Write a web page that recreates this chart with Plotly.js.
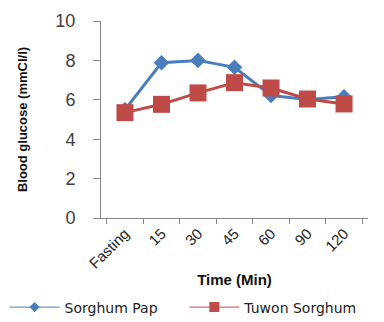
<!DOCTYPE html>
<html><head><meta charset="utf-8">
<script src="https://cdn.plot.ly/plotly-3.0.1.min.js"></script>
<style>html,body{margin:0;padding:0;background:#fff}#c{width:384px;height:322px}</style>
</head><body><div id="c"></div>
<script>
const categories = ["Fasting","15","30","45","60","90","120"];
const sorghumPap = [5.5, 7.88, 8.0, 7.65, 6.22, 6.02, 6.15];
const tuwonSorghum = [5.35, 5.77, 6.35, 6.87, 6.6, 6.04, 5.79];
const seriesNames = ["Sorghum Pap", "Tuwon Sorghum"];
const seriesColors = ["#4A7EBB", "#BE4B48"];
const yTicks = [0,2,4,6,8,10];

const traces = [
  {x: categories, y: sorghumPap, name: seriesNames[0], type: "scatter", mode: "lines+markers", showlegend: false,
   line: {color: seriesColors[0], width: 3}, marker: {symbol: "diamond", size: 12, color: seriesColors[0]}},
  {x: categories, y: tuwonSorghum, name: seriesNames[1], type: "scatter", mode: "lines+markers", showlegend: false,
   line: {color: seriesColors[1], width: 3}, marker: {symbol: "square", size: 17, color: seriesColors[1]}},
  // legend entries (thin line, small marker, as in the reference legend)
  {x: [null], y: [null], name: seriesNames[0], type: "scatter", mode: "lines+markers", legend: "legend",
   line: {color: seriesColors[0], width: 1}, marker: {symbol: "diamond", size: 8, color: seriesColors[0]}},
  {x: [null], y: [null], name: seriesNames[1], type: "scatter", mode: "lines+markers", legend: "legend2",
   line: {color: seriesColors[1], width: 1}, marker: {symbol: "square", size: 10, color: seriesColors[1]}}
];
const legendFont = {size: 14, color: "#222", family: "DejaVu Sans, sans-serif"};
const layout = {
  width: 384, height: 322,
  margin: {l: 101, r: 16, t: 21, b: 104, autoexpand: false},
  paper_bgcolor: "#fff", plot_bgcolor: "#fff",
  font: {family: "Liberation Sans, Arial, sans-serif", color: "#404040"},
  showlegend: true,
  legend: {orientation: "h", x: 0.012, xanchor: "left", xref: "container", y: 0.045, yanchor: "middle", yref: "container",
           font: legendFont, itemwidth: 50, itemsizing: "trace"},
  legend2: {orientation: "h", x: 0.48, xanchor: "left", xref: "container", y: 0.045, yanchor: "middle", yref: "container",
           font: legendFont, itemwidth: 50, itemsizing: "trace"},
  xaxis: {type: "category", tickson: "boundaries", ticks: "outside", ticklen: 5, tickcolor: "#868686",
          showline: true, linecolor: "#868686", linewidth: 1, showgrid: false, tickangle: -45,
          tickfont: {size: 15, color: "#222"}, automargin: false,
          title: {text: "<b>Time (Min)</b>", font: {size: 15, color: "#111"}, standoff: 3}},
  yaxis: {range: [0, 10], tickvals: yTicks, ticks: "outside", ticklen: 7, tickcolor: "#868686",
          showline: true, linecolor: "#868686", linewidth: 1, showgrid: false, zeroline: false,
          tickfont: {size: 18, color: "#404040"}, ticklabelstandoff: 14, automargin: false,
          title: {text: "<b>Blood glucose (mmCl/l)</b>", font: {size: 13, color: "#111"}, standoff: 24}}
};
Plotly.newPlot("c", traces, layout, {displayModeBar: false, staticPlot: true});
</script></body></html>
